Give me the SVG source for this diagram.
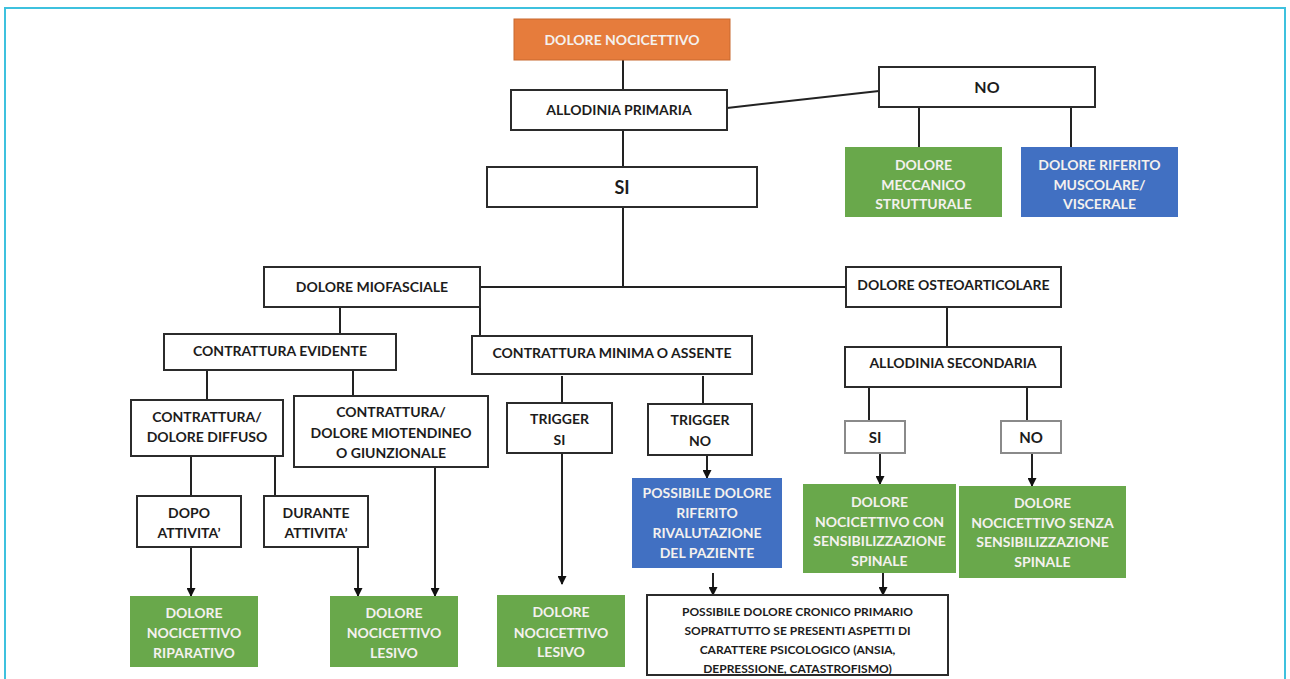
<svg xmlns="http://www.w3.org/2000/svg" width="1290" height="679" viewBox="0 0 1290 679">
<defs>
<style>
.b{fill:#fff;stroke:#2b2b2b;stroke-width:2}
.g{fill:#fff;stroke:#8a8a8a;stroke-width:2}
.gr{fill:#69a84b}
.bl{fill:#4170c2}
.or{fill:#e67c3c;stroke:#c8692f;stroke-width:1}
text{font-family:Lato,"Liberation Sans",sans-serif;font-weight:bold;text-anchor:middle;font-size:14px}
.d{fill:#1c1c1c}
.w{fill:#f4f1ee}
.c line,.c path{stroke:#222;stroke-width:2;fill:none}
</style>
<marker id="ar" markerUnits="userSpaceOnUse" markerWidth="9" markerHeight="9" refX="8" refY="4.5" orient="auto"><path d="M0,0 L9,4.5 L0,9 z" fill="#111"/></marker>
</defs>
<rect width="1290" height="679" fill="#fff"/>
<path d="M5,679 V8 H1285 V679" fill="none" stroke="#3ec1de" stroke-width="2"/>

<g class="c" id="connectors">
<line x1="623" y1="60" x2="623" y2="90"/>
<line x1="727" y1="108" x2="879" y2="91"/>
<line x1="623" y1="130" x2="623" y2="167"/>
<line x1="919" y1="107" x2="919" y2="147"/>
<line x1="1071" y1="107" x2="1071" y2="147"/>
<line x1="623" y1="207" x2="623" y2="287"/>
<line x1="480" y1="287" x2="846" y2="287"/>
<line x1="340" y1="307" x2="340" y2="334"/>
<line x1="480" y1="307" x2="480" y2="336"/>
<line x1="947" y1="307" x2="947" y2="347"/>
<line x1="207" y1="370" x2="207" y2="400"/>
<line x1="353" y1="370" x2="353" y2="396"/>
<line x1="562" y1="376" x2="562" y2="403"/>
<line x1="703" y1="376" x2="703" y2="404"/>
<line x1="869" y1="387" x2="869" y2="421"/>
<line x1="1027" y1="387" x2="1027" y2="421"/>
<line x1="191" y1="456" x2="191" y2="496"/>
<line x1="275" y1="456" x2="275" y2="496"/>
<line x1="191" y1="547" x2="191" y2="596" marker-end="url(#ar)"/>
<line x1="358" y1="547" x2="358" y2="596" marker-end="url(#ar)"/>
<line x1="435" y1="467" x2="435" y2="596" marker-end="url(#ar)"/>
<line x1="562" y1="453" x2="562" y2="584" marker-end="url(#ar)"/>
<line x1="707" y1="455" x2="707" y2="478" marker-end="url(#ar)"/>
<line x1="713" y1="573" x2="713" y2="595" marker-end="url(#ar)"/>
<line x1="880" y1="453" x2="880" y2="484" marker-end="url(#ar)"/>
<line x1="1032" y1="453" x2="1032" y2="486" marker-end="url(#ar)"/>
<line x1="883" y1="573" x2="883" y2="595" marker-end="url(#ar)"/>
</g>

<g id="n-nocicettivo"><rect class="or" x="514" y="19" width="216" height="41"/><text class="w" x="622" y="44.5">DOLORE NOCICETTIVO</text></g>
<g id="n-allodinia-primaria"><rect class="b" x="511" y="90" width="216" height="40"/><text class="d" x="619" y="115">ALLODINIA PRIMARIA</text></g>
<g id="n-si"><rect class="b" x="487" y="167" width="270" height="40"/><text class="d" x="622" y="193.5" style="font-size:18px">SI</text></g>
<g id="n-no"><rect class="b" x="879" y="67" width="216" height="40"/><text class="d" x="987" y="92.5" style="font-size:16px">NO</text></g>
<g id="n-meccanico"><rect class="gr" x="845" y="147" width="157" height="70"/><text class="w" x="923.5" y="170">DOLORE</text><text class="w" x="923.5" y="190">MECCANICO</text><text class="w" x="923.5" y="209">STRUTTURALE</text></g>
<g id="n-riferito"><rect class="bl" x="1021" y="147" width="157" height="70"/><text class="w" x="1099.5" y="170">DOLORE RIFERITO</text><text class="w" x="1099.5" y="190">MUSCOLARE/</text><text class="w" x="1099.5" y="209">VISCERALE</text></g>
<g id="n-miofasciale"><rect class="b" x="264" y="267" width="216" height="40"/><text class="d" x="372" y="292">DOLORE MIOFASCIALE</text></g>
<g id="n-osteoarticolare"><rect class="b" x="846" y="267" width="215" height="40"/><text class="d" x="953.5" y="290">DOLORE OSTEOARTICOLARE</text></g>
<g id="n-evidente"><rect class="b" x="164" y="334" width="232" height="36"/><text class="d" x="280" y="356">CONTRATTURA EVIDENTE</text></g>
<g id="n-minima"><rect class="b" x="472" y="336" width="280" height="38"/><text class="d" x="612" y="358">CONTRATTURA MINIMA O ASSENTE</text></g>
<g id="n-allodinia-secondaria"><rect class="b" x="845" y="347" width="216" height="40"/><text class="d" x="953" y="368">ALLODINIA SECONDARIA</text></g>
<g id="n-diffuso"><rect class="b" x="131" y="400" width="152" height="56"/><text class="d" x="207" y="422">CONTRATTURA/</text><text class="d" x="207" y="442">DOLORE DIFFUSO</text></g>
<g id="n-miotendineo"><rect class="b" x="294" y="396" width="194" height="71"/><text class="d" x="391" y="417">CONTRATTURA/</text><text class="d" x="391" y="438">DOLORE MIOTENDINEO</text><text class="d" x="391" y="458">O GIUNZIONALE</text></g>
<g id="n-trigger-si"><rect class="b" x="507" y="403" width="105" height="50"/><text class="d" x="559.5" y="424">TRIGGER</text><text class="d" x="559.5" y="445">SI</text></g>
<g id="n-trigger-no"><rect class="b" x="648" y="404" width="104" height="51"/><text class="d" x="700" y="425">TRIGGER</text><text class="d" x="700" y="446">NO</text></g>
<g id="n-sec-si"><rect class="g" x="845" y="421" width="60" height="32"/><text class="d" x="875" y="443" style="font-size:15px">SI</text></g>
<g id="n-sec-no"><rect class="g" x="1001" y="421" width="60" height="32"/><text class="d" x="1031" y="443" style="font-size:15px">NO</text></g>
<g id="n-dopo"><rect class="b" x="137" y="496" width="104" height="51"/><text class="d" x="189" y="518">DOPO</text><text class="d" x="189" y="538">ATTIVITA’</text></g>
<g id="n-durante"><rect class="b" x="264" y="496" width="104" height="51"/><text class="d" x="316" y="518">DURANTE</text><text class="d" x="316" y="538">ATTIVITA’</text></g>
<g id="n-rivalutazione"><rect class="bl" x="632" y="478" width="150" height="90"/><text class="w" x="707" y="498">POSSIBILE DOLORE</text><text class="w" x="707" y="518">RIFERITO</text><text class="w" x="707" y="538">RIVALUTAZIONE</text><text class="w" x="707" y="558">DEL PAZIENTE</text></g>
<g id="n-con-sens"><rect class="gr" x="803" y="484" width="153" height="89"/><text class="w" x="879.5" y="507">DOLORE</text><text class="w" x="879.5" y="527">NOCICETTIVO CON</text><text class="w" x="879.5" y="546">SENSIBILIZZAZIONE</text><text class="w" x="879.5" y="566">SPINALE</text></g>
<g id="n-senza-sens"><rect class="gr" x="959" y="486" width="167" height="92"/><text class="w" x="1042.5" y="508">DOLORE</text><text class="w" x="1042.5" y="528">NOCICETTIVO SENZA</text><text class="w" x="1042.5" y="547">SENSIBILIZZAZIONE</text><text class="w" x="1042.5" y="567">SPINALE</text></g>
<g id="n-riparativo"><rect class="gr" x="130" y="596" width="128" height="71"/><text class="w" x="194" y="618">DOLORE</text><text class="w" x="194" y="638">NOCICETTIVO</text><text class="w" x="194" y="658">RIPARATIVO</text></g>
<g id="n-lesivo1"><rect class="gr" x="330" y="596" width="128" height="71"/><text class="w" x="394" y="618">DOLORE</text><text class="w" x="394" y="638">NOCICETTIVO</text><text class="w" x="394" y="658">LESIVO</text></g>
<g id="n-lesivo2"><rect class="gr" x="497" y="595" width="128" height="72"/><text class="w" x="561" y="617">DOLORE</text><text class="w" x="561" y="638">NOCICETTIVO</text><text class="w" x="561" y="657">LESIVO</text></g>
<g id="n-cronico"><rect class="b" x="647" y="595" width="301" height="80"/><g style="font-size:12px"><text class="d" x="797.5" y="616" style="font-size:12px">POSSIBILE DOLORE CRONICO PRIMARIO</text><text class="d" x="797.5" y="635" style="font-size:12px">SOPRATTUTTO SE PRESENTI ASPETTI DI</text><text class="d" x="797.5" y="654" style="font-size:12px">CARATTERE PSICOLOGICO (ANSIA,</text><text class="d" x="797.5" y="673" style="font-size:12px">DEPRESSIONE, CATASTROFISMO)</text></g></g>
</svg>
